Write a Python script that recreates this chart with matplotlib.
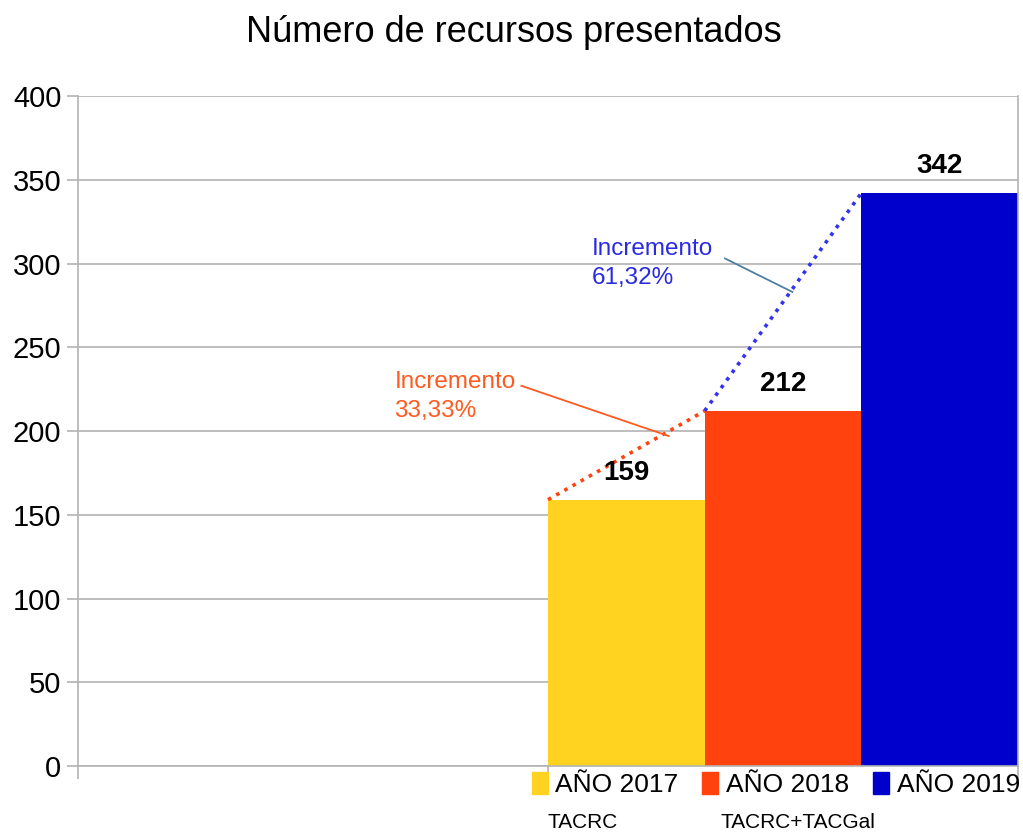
import matplotlib.pyplot as plt
from matplotlib.patches import Patch
from matplotlib.transforms import blended_transform_factory

plt.rcParams['font.family'] = ['Liberation Sans', 'DejaVu Sans']

# data
years = ['AÑO 2017', 'AÑO 2018', 'AÑO 2019']
values = [159, 212, 342]
colors = ['#FFD320', '#FF420E', '#0000CC']
subtitles = ['TACRC', 'TACRC+TACGal']
increments = ['Incremento\n33,33%', 'Incremento\n61,32%']

fig = plt.figure(figsize=(10.23, 8.33), dpi=100)
ax = fig.add_axes([78 / 1023, 1 - 766 / 833, 940 / 1023, 670 / 833])

# bars sit in the right half of the axis (6 slots, first 3 empty)
pos = [3.5, 4.5, 5.5]
ax.bar(pos, values, width=1.0, color=colors, zorder=2)

for x, v in zip(pos, values):
    ax.text(x, v + 16, str(v), ha='center', va='center', fontsize=20,
            fontweight='bold', zorder=4)

# dotted lines connecting the bar tops (left corners)
ax.plot([3, 4], values[:2], ls=(0, (1, 1.6)), lw=2.6, color='#FF420E', zorder=3)
ax.plot([4, 5], values[1:], ls=(0, (1, 1.6)), lw=2.6, color='#3333EE', zorder=3)

# increment labels with leader lines
ax.text(2.02, 236, increments[0], color='#FF5A1F', fontsize=17.5, va='top',
        ha='left', linespacing=1.4)
ax.plot([2.83, 3.77], [227, 197], color='#FF5A1F', lw=1.3, zorder=3)
ax.text(3.28, 315, increments[1], color='#2A2AE0', fontsize=17.5, va='top',
        ha='left', linespacing=1.4)
ax.plot([4.13, 4.56], [303, 283], color='#4F7FA0', lw=1.3, zorder=3)

ax.set_xlim(0, 6)
ax.set_ylim(0, 400)
ax.set_yticks(range(0, 401, 50))
ax.set_xticks([0, 3, 6])
ax.set_xticklabels([])
ax.grid(axis='y', color='#b3b3b3', lw=1.2, zorder=0)
ax.set_axisbelow(True)
ax.tick_params(axis='y', length=8, width=1.2, color='#b3b3b3', labelsize=21, pad=4)
ax.tick_params(axis='x', length=9, width=1.2, color='#b3b3b3')
for s in ['left', 'bottom', 'right']:
    ax.spines[s].set_color('#b3b3b3')
    ax.spines[s].set_linewidth(1.2)
ax.spines['top'].set_visible(False)

handles = [Patch(color=c, label=y) for c, y in zip(colors, years)]
ax.legend(handles=handles, ncol=3, loc='upper right', bbox_to_anchor=(1.005, -0.005),
          frameon=False, fontsize=19, handlelength=0.6, handleheight=0.9,
          handletextpad=0.3, columnspacing=0.9, borderaxespad=0, borderpad=0.1)

trans = blended_transform_factory(ax.transData, ax.transAxes)
ax.text(3.0, -0.085, subtitles[0], transform=trans, fontsize=15, ha='left', va='center')
ax.text(4.1, -0.085, subtitles[1], transform=trans, fontsize=15, ha='left', va='center')

fig.text(514 / 1023, 1 - 33 / 833, 'Número de recursos presentados', ha='center',
         va='center', fontsize=26)

fig.savefig('out.png', dpi=100)
